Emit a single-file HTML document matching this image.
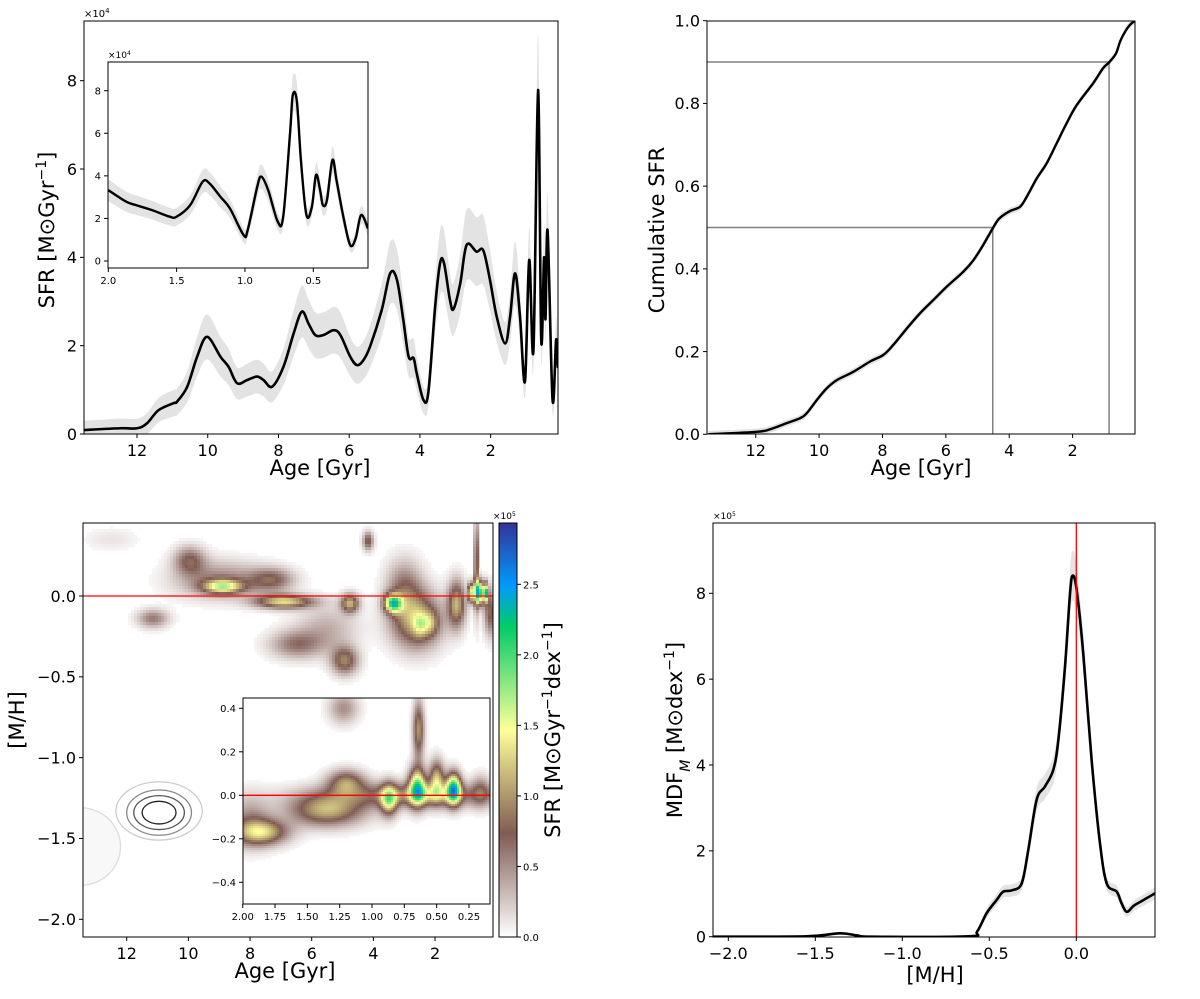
<!DOCTYPE html>
<html><head><meta charset="utf-8"><style>
html,body{margin:0;padding:0;background:#fff;}
svg{display:block;font-family:"DejaVu Sans","Liberation Sans",sans-serif;}
</style></head><body>
<svg id="fig" width="1200" height="999" viewBox="0 0 1200 999" xmlns="http://www.w3.org/2000/svg">
<defs>
<clipPath id="cTL"><rect x="84" y="21" width="474" height="413"/></clipPath>
<clipPath id="cTLi"><rect x="108" y="62" width="260" height="206"/></clipPath>
<clipPath id="cTR"><rect x="707" y="21" width="428" height="413"/></clipPath>
<clipPath id="cBL"><rect x="83" y="523" width="410" height="414"/></clipPath>
<clipPath id="cBLi"><rect x="243" y="698" width="247" height="206"/></clipPath>
<clipPath id="cBR"><rect x="713" y="523" width="442" height="414"/></clipPath>
<linearGradient id="cmapGrad" x1="0" y1="1" x2="0" y2="0">
<stop offset="0" stop-color="#ffffff"/><stop offset="0.25" stop-color="#805c54"/><stop offset="0.5" stop-color="#ffff99"/><stop offset="0.75" stop-color="#00cc66"/><stop offset="0.85" stop-color="#0099ff"/><stop offset="1" stop-color="#333399"/>
</linearGradient>
</defs>
</svg>
<script>
// ---------- DATA ----------
const sfrAges=[13.5,12.47,12.0,11.72,11.39,10.96,10.87,10.58,10.30,10.02,9.64,9.41,9.17,8.89,8.61,8.42,8.18,7.86,7.57,7.34,7.15,6.96,6.73,6.44,6.25,5.97,5.78,5.6,5.41,5.08,4.84,4.65,4.47,4.32,4.18,4.09,3.90,3.76,3.57,3.43,3.32,3.15,3.05,2.86,2.68,2.40,2.21,2.02,1.83,1.59,1.45,1.31,1.17,1.03,0.91,0.79,0.66,0.57,0.49,0.45,0.39,0.25,0.15,0.1];
const sfrValues=[0.09,0.13,0.13,0.24,0.54,0.7,0.73,1.07,1.75,2.2,1.75,1.52,1.15,1.22,1.3,1.22,1.07,1.52,2.28,2.77,2.5,2.24,2.24,2.35,2.24,1.75,1.56,1.67,1.98,2.81,3.64,3.49,2.58,1.75,1.72,1.37,0.77,0.96,2.88,3.87,3.87,3.03,2.83,3.41,4.28,4.13,4.16,3.49,2.66,2.05,2.66,3.64,2.66,1.19,3.94,1.9,7.79,2.13,4.0,2.6,4.6,0.77,2.13,1.5];
const insetAges=[2.0,1.87,1.80,1.68,1.55,1.5,1.40,1.31,1.26,1.18,1.11,1.01,0.98,0.91,0.88,0.83,0.76,0.72,0.67,0.65,0.62,0.59,0.55,0.51,0.48,0.45,0.43,0.40,0.36,0.33,0.28,0.23,0.19,0.15,0.1];
const insetValues=[3.33,2.79,2.63,2.39,2.08,2.08,2.63,3.72,3.65,3.02,2.47,1.22,1.45,3.49,3.96,3.33,1.85,2.08,6.0,7.79,7.5,4.7,2.16,2.55,4.04,3.33,2.63,2.86,4.74,3.8,2.08,0.75,1.06,2.16,1.53];
const cumAges=[13.5,11.97,11.55,11.02,10.6,10.39,10.07,9.76,9.44,8.92,8.39,7.97,7.66,7.23,6.81,6.39,5.97,5.45,5.13,4.82,4.52,4.31,3.97,3.66,3.45,3.13,2.82,2.50,2.19,1.87,1.35,1.04,0.84,0.63,0.50,0.34,0.19,0.03];
const cumValues=[0,0.006,0.012,0.027,0.039,0.051,0.083,0.111,0.131,0.151,0.176,0.192,0.216,0.256,0.293,0.325,0.357,0.393,0.421,0.458,0.498,0.522,0.54,0.55,0.574,0.619,0.655,0.704,0.752,0.796,0.849,0.885,0.9,0.921,0.95,0.974,0.99,1.0];
const cumMarkAges=[4.52,0.85];
const cumMarkFracs=[0.5,0.9];
const mdfMH=[-2.09,-1.55,-1.36,-1.26,-1.17,-0.62,-0.57,-0.515,-0.457,-0.42,-0.37,-0.314,-0.276,-0.228,-0.18,-0.132,-0.103,-0.065,-0.036,-0.021,0.002,0.04,0.088,0.136,0.175,0.232,0.26,0.29,0.33,0.38,0.452];
const mdfValues=[0,0.01,0.08,0.03,0,0.01,0.12,0.55,0.86,1.05,1.08,1.24,2.02,3.19,3.5,3.89,4.59,6.29,8.0,8.41,8.08,6.6,4.12,2.18,1.24,1.05,0.78,0.58,0.72,0.84,1.01];
// heatmap blobs (main): age, [M/H], peak (x1e5), sigma age, sigma mh
const blobAge=[8.88,9.96,9.0,6.9,11.15,6.5,7.3,4.93,4.76,4.17,3.36,2.6,2.49,2.16,1.3,0.66,0.85,0.66,0.5,0.36,5.5,12.5,0.2,3.0];
const blobMH=[0.058,0.22,0.1,-0.035,-0.14,-0.3,0.1,-0.40,-0.045,0.34,-0.045,-0.15,-0.18,-0.17,-0.05,0.2,0.02,0.02,0.02,0.02,-0.2,0.35,-0.1,0.05];
const blobPeak=[1.3,0.7,0.55,1.3,0.6,0.6,0.7,0.9,1.1,0.8,1.8,1.15,0.5,0.5,1.1,1.0,2.0,2.4,2.2,2.4,0.35,0.12,0.8,0.6];
const blobSA=[0.45,0.35,1.0,0.65,0.35,0.6,0.5,0.3,0.2,0.12,0.2,0.55,0.15,0.18,0.2,0.05,0.05,0.05,0.05,0.05,0.7,0.6,0.15,0.4];
const blobSM=[0.03,0.06,0.08,0.03,0.04,0.06,0.05,0.06,0.04,0.04,0.04,0.12,0.05,0.05,0.1,0.2,0.04,0.05,0.05,0.04,0.1,0.05,0.1,0.12];
// inset heatmap blobs
const iblobAge=[1.85,1.35,1.2,0.87,0.65,0.5,0.37,0.16,0.64,0.7,1.22,1.95,0.55];
const iblobMH=[-0.17,-0.07,0.06,-0.02,0.04,0.07,0.03,0.02,0.3,0.0,0.4,-0.12,0.0];
const iblobPeak=[1.15,1.1,0.9,1.3,1.8,1.2,2.1,0.5,1.0,0.8,0.5,0.5,0.3];
const iblobSA=[0.14,0.2,0.1,0.045,0.045,0.04,0.04,0.05,0.03,0.5,0.08,0.12,0.12];
const iblobSM=[0.04,0.05,0.04,0.05,0.06,0.06,0.05,0.05,0.09,0.04,0.05,0.08,0.03];
// contour levels (ellipse semi-axes in Gyr / dex) around old population
const contAge=[10.95,10.95,10.95,10.95,13.5,13.5];
const contMH=[-1.34,-1.34,-1.34,-1.33,-1.55,-1.55];
const contRA=[0.55,0.82,1.05,1.4,0.7,1.3];
const contRM=[0.07,0.105,0.14,0.18,0.11,0.24];
const contColor=['#222','#555','#888','#ccc','#999','#ddd'];
const cbTicks=[0,0.5,1.0,1.5,2.0,2.5];

// ---------- HELPERS ----------
const NS='http://www.w3.org/2000/svg';
const svg=document.getElementById('fig');
function mk(tag,parent,attrs){const e=document.createElementNS(NS,tag);for(const k in attrs)e.setAttribute(k,attrs[k]);parent.appendChild(e);return e;}
function lin(d0,d1,r0,r1){return v=>r0+(v-d0)*(r1-r0)/(d1-d0);}
function smoothPath(pts){
  let d='M'+pts[0][0].toFixed(2)+','+pts[0][1].toFixed(2);
  for(let i=0;i<pts.length-1;i++){
    const p0=pts[i-1]||pts[i],p1=pts[i],p2=pts[i+1],p3=pts[i+2]||p2;
    const c1=[p1[0]+(p2[0]-p0[0])/6,p1[1]+(p2[1]-p0[1])/6];
    const c2=[p2[0]-(p3[0]-p1[0])/6,p2[1]-(p3[1]-p1[1])/6];
    d+='C'+c1[0].toFixed(2)+','+c1[1].toFixed(2)+' '+c2[0].toFixed(2)+','+c2[1].toFixed(2)+' '+p2[0].toFixed(2)+','+p2[1].toFixed(2);
  }
  return d;
}
function text(parent,x,y,str,size,anchor,name,rot){
  const t=mk('text',parent,{x:x,y:y,'font-size':size,'text-anchor':anchor||'middle',fill:'#000'});
  
  
  if(rot)t.setAttribute('transform','rotate(-90 '+x+' '+y+')');
  t.textContent=str;return t;
}
function frame(parent,x,y,w,h,name){
  const r=mk('rect',parent,{x:x,y:y,width:w,height:h,fill:'none',stroke:'#000','stroke-width':1});
  
  
}
function xTicks(parent,sx,vals,labels,yb,size,name){
  vals.forEach((v,i)=>{
    const x=sx(v);
    const l=mk('line',parent,{x1:x,x2:x,y1:yb,y2:yb+4,stroke:'#000'});
    
    
    text(parent,x,yb+6+size,labels[i],size,'middle',name+'-label');
  });
}
function yTicks(parent,sy,vals,labels,xl,size,name){
  vals.forEach((v,i)=>{
    const y=sy(v);
    const l=mk('line',parent,{x1:xl-4,x2:xl,y1:y,y2:y,stroke:'#000'});
    
    
    text(parent,xl-7,y+size*0.36,labels[i],size,'end',name+'-label');
  });
}
function band(parent,xs,ys,sx,sy,hw,clip,name){
  const up=xs.map((a,i)=>[sx(a),sy(ys[i]+hw(ys[i]))]);
  const dn=xs.map((a,i)=>[sx(a),sy(Math.max(0,ys[i]-hw(ys[i])))]).reverse();
  const d=smoothPath(up)+'L'+smoothPath(dn).slice(1)+'Z';
  const p=mk('path',parent,{d:d,fill:'#e3e3e3',stroke:'none','clip-path':'url(#'+clip+')'});
  
  
}
function line(parent,xs,ys,sx,sy,w,clip,name){
  const pts=xs.map((a,i)=>[sx(a),sy(ys[i])]);
  const p=mk('path',parent,{d:smoothPath(pts),fill:'none',stroke:'#000','stroke-width':w,'stroke-linejoin':'round','clip-path':'url(#'+clip+')'});
  
  
}
// colormap (terrain_r, vmax 2.94)
const cmV=[0,0.735,1.47,2.2,2.5,2.94];
const cmC=[[255,255,255],[128,92,84],[255,255,153],[0,204,102],[0,153,255],[51,51,153]];
function cmap(v){
  if(v<=0)return 'rgb(255,255,255)';
  for(let i=0;i<cmV.length-1;i++){
    if(v<=cmV[i+1]){const t=(v-cmV[i])/(cmV[i+1]-cmV[i]);
      const c=cmC[i].map((c0,k)=>Math.round(c0+(cmC[i+1][k]-c0)*t));return 'rgb('+c.join(',')+')';}
  }
  return 'rgb(51,51,153)';
}
function heat(parent,x0,y0,w,h,cell,sxInv,syInv,A,M,P,SA,SM,name){
  const g=mk('g',parent,{});
  
  
  for(let py=y0;py<y0+h;py+=cell){
    for(let px=x0;px<x0+w;px+=cell){
      const age=sxInv(px+cell/2),mh=syInv(py+cell/2);
      let v=0;
      for(let k=0;k<A.length;k++){
        const da=(age-A[k])/SA[k],dm=(mh-M[k])/SM[k];
        const e=da*da+dm*dm; if(e<16)v+=P[k]*Math.exp(-0.5*e);
      }
      if(v>0.04){
        const r=mk('rect',g,{x:px,y:py,width:Math.min(cell,x0+w-px)+0.3,height:Math.min(cell,y0+h-py)+0.3,fill:cmap(Math.min(v,2.94))});
        
        
      }
    }
  }
}

// ---------- PANEL 1: SFR ----------
(function(){
  const g=mk('g',svg,{});
  
  
  const sx=lin(0,12,561.4,137),sy=lin(0,8,434,80.7);
  band(g,sfrAges,sfrValues,sx,sy,v=>0.14*v+0.2,'cTL','sfr-uncertainty-band');
  line(g,sfrAges,sfrValues,sx,sy,2.6,'cTL','sfr-line');
  frame(g,84,21,474,413,'sfr-axes-frame');
  xTicks(g,sx,[12,10,8,6,4,2],['12','10','8','6','4','2'],434,16,'sfr-x');
  yTicks(g,sy,[0,2,4,6,8],['0','2','4','6','8'],84,16,'sfr-y');
  const m=text(g,84,17,'×10',10,'start','sfr-y-multiplier');
  const s=mk('tspan',m,{'baseline-shift':'super','font-size':7});s.textContent='4';
  text(g,320,475,'Age [Gyr]',21,'middle','sfr-x-axis-title');
  const yl=text(g,54,230,'SFR [M⊙Gyr',21,'middle','sfr-y-axis-title',true);
  const s1=mk('tspan',yl,{'baseline-shift':'super','font-size':14});s1.textContent='−1';
  const s2=mk('tspan',yl,{});s2.textContent=']';
  // inset
  const ig=mk('g',g,{});
  
  
  const bg=mk('rect',ig,{x:108,y:62,width:260,height:206,fill:'#fff'});
  
  
  const isx=lin(0,2,381.6,108.3),isy=lin(0,8,261,90.7);
  band(ig,insetAges,insetValues,isx,isy,v=>0.08*v+0.25,'cTLi','sfr-inset-band');
  line(ig,insetAges,insetValues,isx,isy,2.4,'cTLi','sfr-inset-line');
  frame(ig,108,62,260,206,'sfr-inset-frame');
  xTicks(ig,isx,[2,1.5,1,0.5],['2.0','1.5','1.0','0.5'],268,10,'sfr-inset-x');
  yTicks(ig,isy,[0,2,4,6,8],['0','2','4','6','8'],108,10,'sfr-inset-y');
  const m2=text(ig,108,58,'×10',9,'start','sfr-inset-multiplier');
  const s3=mk('tspan',m2,{'baseline-shift':'super','font-size':6});s3.textContent='4';
})();

// ---------- PANEL 2: Cumulative ----------
(function(){
  const g=mk('g',svg,{});
  
  
  const sx=lin(0,12,1136,755.7),sy=lin(0,1,434.3,20.7);
  band(g,cumAges,cumValues,sx,sy,v=>0.008,'cTR','cumulative-band');
  cumMarkAges.forEach((a,i)=>{
    const h=mk('line',g,{x1:707,x2:sx(a),y1:sy(cumMarkFracs[i]),y2:sy(cumMarkFracs[i]),stroke:'#808080','stroke-width':1.5});
    
    
    const v=mk('line',g,{x1:sx(a),x2:sx(a),y1:sy(cumMarkFracs[i]),y2:434.3,stroke:'#808080','stroke-width':1.5});
    
    
  });
  line(g,cumAges,cumValues,sx,sy,2.4,'cTR','cumulative-line');
  frame(g,707,21,428,413,'cumulative-axes-frame');
  xTicks(g,sx,[12,10,8,6,4,2],['12','10','8','6','4','2'],434,16,'cumulative-x');
  yTicks(g,sy,[0,0.2,0.4,0.6,0.8,1.0],['0.0','0.2','0.4','0.6','0.8','1.0'],707,16,'cumulative-y');
  text(g,921,475,'Age [Gyr]',21,'middle','cumulative-x-axis-title');
  text(g,664,230,'Cumulative SFR',21,'middle','cumulative-y-axis-title',true);
})();

// ---------- PANEL 3: Age-metallicity heatmap ----------
(function(){
  const g=mk('g',svg,{});
  
  
  const sx=lin(0,12,496.7,126.7),sy=lin(0,-2,596,919.3);
  const sxi=lin(496.7,126.7,0,12),syi=lin(596,919.3,0,-2);
  const hg=mk('g',g,{'clip-path':'url(#cBL)'});
  heat(hg,83,523,410,414,3,sxi,syi,blobAge,blobMH,blobPeak,blobSA,blobSM,'amr-heatmap');
  contAge.forEach((a,i)=>{
    const e=mk('ellipse',hg,{cx:sx(a),cy:sy(contMH[i]),rx:Math.abs(sx(a+contRA[i])-sx(a)),ry:Math.abs(sy(contMH[i]+contRM[i])-sy(contMH[i])),fill:i>=4?'#f9f8f8':'none',stroke:contColor[i],'stroke-width':1.3});
    
    
  });
  const rl=mk('line',g,{x1:83,x2:493,y1:sy(0),y2:sy(0),stroke:'#ff0000','stroke-width':1.3});
  
  
  frame(g,83,523,410,414,'amr-axes-frame');
  xTicks(g,sx,[12,10,8,6,4,2],['12','10','8','6','4','2'],937,16,'amr-x');
  yTicks(g,sy,[0,-0.5,-1,-1.5,-2],['0.0','−0.5','−1.0','−1.5','−2.0'],83,16,'amr-y');
  text(g,285,978,'Age [Gyr]',21,'middle','amr-x-axis-title');
  text(g,24,720,'[M/H]',21,'middle','amr-y-axis-title',true);
  // inset
  const ig=mk('g',g,{});
  
  
  const bg=mk('rect',ig,{x:243,y:698,width:247,height:206,fill:'#fff'});
  
  
  const isx=lin(0,2,501.3,242.7),isy=lin(0,0.4,795.3,708.3);
  const isxi=lin(501.3,242.7,0,2),isyi=lin(795.3,708.3,0,0.4);
  const ih=mk('g',ig,{'clip-path':'url(#cBLi)'});
  heat(ih,243,698,247,206,2,isxi,isyi,iblobAge,iblobMH,iblobPeak,iblobSA,iblobSM,'amr-inset-heatmap');
  const rl2=mk('line',ig,{x1:243,x2:490,y1:isy(0),y2:isy(0),stroke:'#ff0000','stroke-width':1.3});
  
  
  frame(ig,243,698,247,206,'amr-inset-frame');
  xTicks(ig,isx,[2,1.75,1.5,1.25,1,0.75,0.5,0.25],['2.00','1.75','1.50','1.25','1.00','0.75','0.50','0.25'],904,10,'amr-inset-x');
  yTicks(ig,isy,[0.4,0.2,0,-0.2,-0.4],['0.4','0.2','0.0','−0.2','−0.4'],243,10,'amr-inset-y');
  // colorbar
  const cb=mk('rect',g,{x:499,y:523,width:18,height:414,fill:'url(#cmapGrad)',stroke:'#000','stroke-width':1});
  
  
  const cy=lin(0,2.5,937,584.3);
  cbTicks.forEach(v=>{
    const l=mk('line',g,{x1:517,x2:521,y1:cy(v),y2:cy(v),stroke:'#000'});
    
    
    text(g,523,cy(v)+4,v.toFixed(1),10,'start','colorbar-tick-label');
  });
  const m=text(g,493,519,'×10',9,'start','colorbar-multiplier');
  const s=mk('tspan',m,{'baseline-shift':'super','font-size':6});s.textContent='5';
  const yl=text(g,560,730,'SFR [M⊙Gyr',21,'middle','colorbar-title',true);
  const s1=mk('tspan',yl,{'baseline-shift':'super','font-size':14});s1.textContent='−1';
  const s2=mk('tspan',yl,{});s2.textContent='dex';
  const s3=mk('tspan',yl,{'baseline-shift':'super','font-size':14});s3.textContent='−1';
  const s4=mk('tspan',yl,{});s4.textContent=']';
})();

// ---------- PANEL 4: MDF ----------
(function(){
  const g=mk('g',svg,{});
  
  
  const sx=lin(-2,0,728.3,1076.3),sy=lin(0,8,936.7,593.3);
  band(g,mdfMH,mdfValues,sx,sy,v=>v>0.3?0.06*v+0.08:0.02,'cBR','mdf-band');
  line(g,mdfMH,mdfValues,sx,sy,2.6,'cBR','mdf-line');
  const rl=mk('line',g,{x1:sx(0),x2:sx(0),y1:523,y2:937,stroke:'#ff0000','stroke-width':1.3});
  
  
  frame(g,713,523,442,414,'mdf-axes-frame');
  xTicks(g,sx,[-2,-1.5,-1,-0.5,0],['−2.0','−1.5','−1.0','−0.5','0.0'],937,16,'mdf-x');
  yTicks(g,sy,[0,2,4,6,8],['0','2','4','6','8'],713,16,'mdf-y');
  const m=text(g,713,519,'×10',9,'start','mdf-multiplier');
  const s=mk('tspan',m,{'baseline-shift':'super','font-size':6});s.textContent='5';
  text(g,935,982,'[M/H]',21,'middle','mdf-x-axis-title');
  const yl=text(g,682,730,'MDF',21,'middle','mdf-y-axis-title',true);
  const s1=mk('tspan',yl,{'baseline-shift':'sub','font-size':14,'font-style':'italic'});s1.textContent='M';
  const s2=mk('tspan',yl,{});s2.textContent=' [M⊙dex';
  const s3=mk('tspan',yl,{'baseline-shift':'super','font-size':14});s3.textContent='−1';
  const s4=mk('tspan',yl,{});s4.textContent=']';
})();
</script>
</body></html>
